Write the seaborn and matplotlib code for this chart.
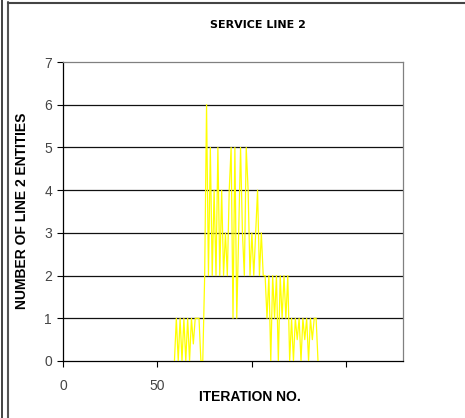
import numpy as np
import pandas as pd
import matplotlib
matplotlib.use("Agg")
import matplotlib.pyplot as plt
from matplotlib.lines import Line2D
import seaborn as sns

# Number of line-2 entities recorded at each iteration
iterations = list(range(59, 136))
entities = [
    0, 1, 0, 1, 0, 1, 0, 1, 0, 1,      # 59-68
    0.4, 1, 1, 1, 0, 0, 2, 6, 2, 5,    # 69-78
    2, 4, 2, 5, 2, 4, 2, 3, 2, 4,      # 79-88
    5, 1, 5, 1, 3, 5, 3, 2, 5, 4,      # 89-98
    2, 3, 2, 3, 4, 2, 3, 2, 2, 1,      # 99-108
    2, 0, 2, 1, 2, 0, 2, 1, 2, 1,      # 109-118
    2, 0, 1, 0, 1, 0.5, 1, 0, 1, 0.5,  # 119-128
    1, 0, 1, 0.5, 1, 1, 0,             # 129-135
]
x_ticks = [0, 50, 100, 150]
x_tick_labels = ["0", "50", "", ""]
y_ticks = [0, 1, 2, 3, 4, 5, 6, 7]

df = pd.DataFrame({"iteration": iterations, "entities": entities})

sns.set_style("white")
plt.rcParams["font.family"] = ["Liberation Sans", "DejaVu Sans"]

fig = plt.figure(figsize=(4.65, 4.18), dpi=100)
ax = fig.add_axes([63 / 465, 1 - 361 / 418, (403 - 63) / 465, (361 - 62) / 418])

sns.lineplot(data=df, x="iteration", y="entities", ax=ax,
             color="#FFFF00", linewidth=0.9, zorder=3)

ax.set_xlim(0, 180)
ax.set_ylim(0, 7)
ax.set_xticks(x_ticks)
ax.set_xticklabels(x_tick_labels)
ax.set_yticks(y_ticks)
ax.set_yticklabels([str(v) for v in y_ticks])

# horizontal gridlines
for v in y_ticks[1:-1]:
    ax.axhline(v, color="#111111", linewidth=0.9, zorder=1)

for side in ["left", "bottom"]:
    ax.spines[side].set_color("#000000")
    ax.spines[side].set_linewidth(0.9)
for side in ["top", "right"]:
    ax.spines[side].set_color("#808080")
    ax.spines[side].set_linewidth(0.9)

ax.tick_params(axis="both", direction="out", length=4, width=0.8,
               color="#000000", labelsize=10, labelcolor="#444444", pad=4)
ax.tick_params(axis="x", pad=9)
ax.tick_params(left=True, bottom=True)

ax.set_xlabel("")
ax.set_ylabel("")

fig.text(258 / 465, 1 - 25 / 418, "SERVICE LINE 2", ha="center", va="center",
         fontsize=8, fontweight="bold", color="#000000", family="DejaVu Sans")
fig.text(22 / 465, 1 - 211 / 418, "NUMBER OF LINE 2 ENTITIES", ha="center",
         va="center", rotation=90, fontsize=10, fontweight="bold", color="#000000")
fig.text(250 / 465, 1 - 397 / 418, "ITERATION NO.", ha="center", va="center",
         fontsize=10, fontweight="bold", color="#000000")

# window and chart-area frame lines
W, H = 465.0, 418.0
fig.add_artist(Line2D([1.5 / W, 1.5 / W], [0, 1], color="#222222", linewidth=1.2,
                      transform=fig.transFigure))
fig.add_artist(Line2D([7.5 / W, 7.5 / W], [0, 1 - 2 / H], color="#555555",
                      linewidth=1.5, transform=fig.transFigure))
fig.add_artist(Line2D([7.5 / W, 1], [1 - 2.5 / H, 1 - 2.5 / H], color="#444444",
                      linewidth=1.5, transform=fig.transFigure))

fig.savefig("out.png", dpi=100, facecolor="white")
